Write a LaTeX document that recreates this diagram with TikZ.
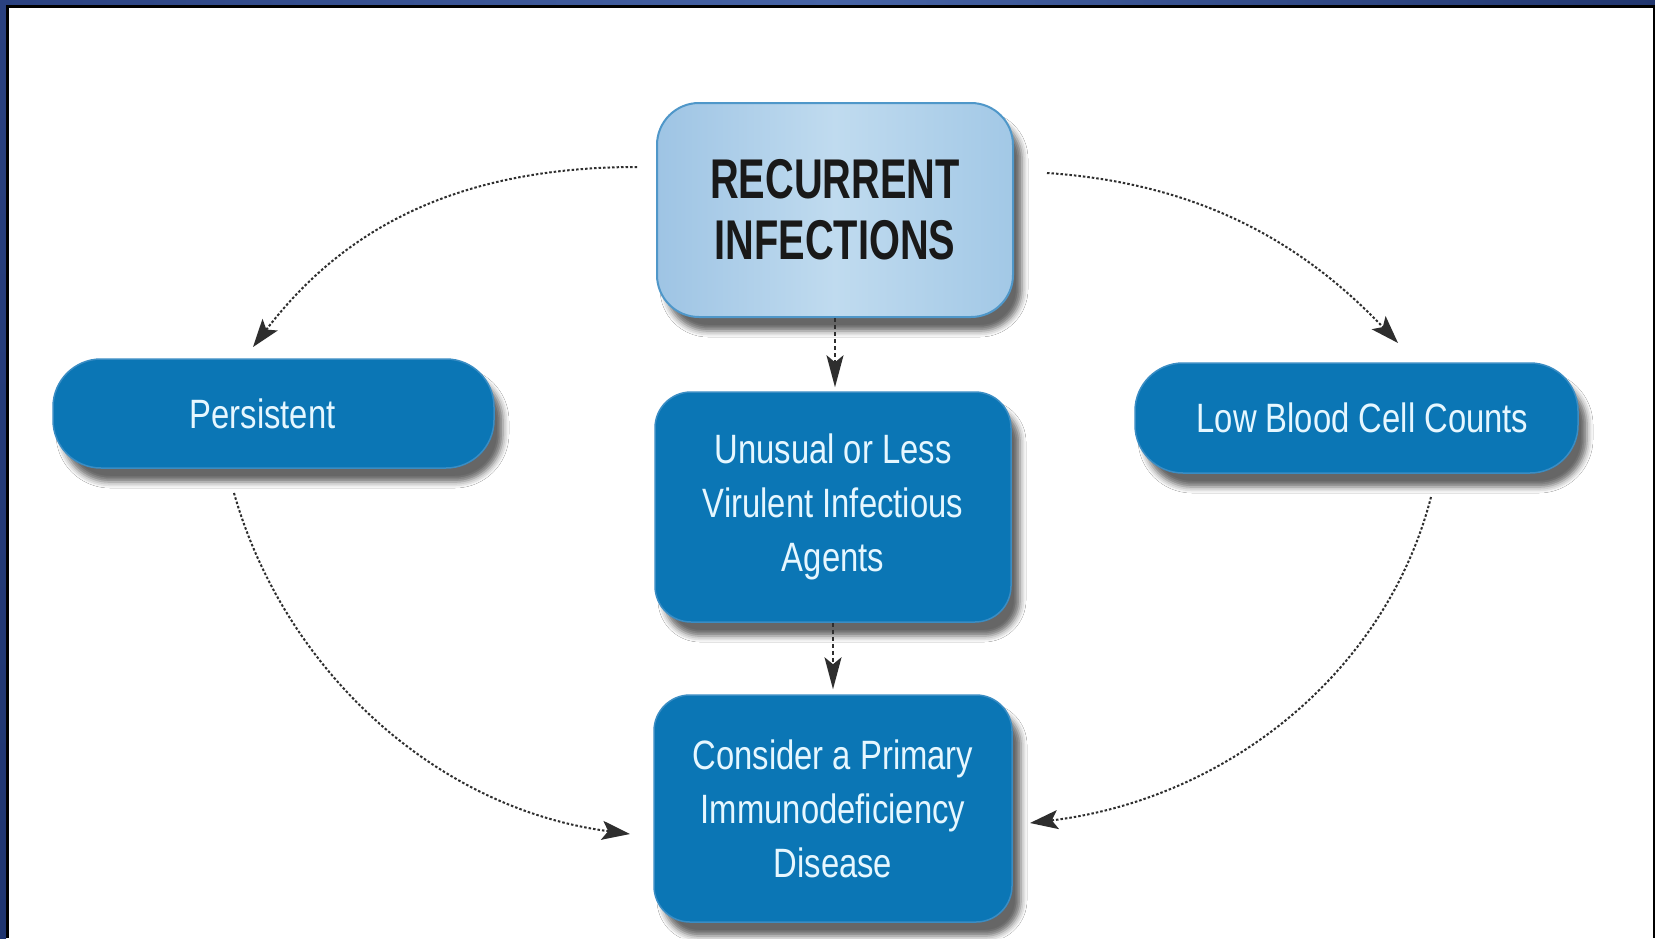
\documentclass[tikz,border=0pt]{standalone}
\usepackage{fontspec}
\usetikzlibrary{arrows.meta,shadows.blur}
\newfontfamily\condfont[FakeStretch=0.8]{Liberation Sans}
\newfontfamily\headfont[FakeStretch=0.71]{Liberation Sans}
\definecolor{nodeblue}{HTML}{0B76B5}
\definecolor{nodeedge}{HTML}{3A8DC4}
\definecolor{txtcyan}{HTML}{E6F7FF}
\definecolor{topL}{HTML}{9EC4E4}
\definecolor{topM}{HTML}{C0DBEF}
\definecolor{topR}{HTML}{A2C8E6}
\definecolor{topedge}{HTML}{4F97C9}
\definecolor{frameA}{HTML}{2A4180}
\definecolor{frameB}{HTML}{4764A6}
\definecolor{frameC}{HTML}{21366F}
\definecolor{frameD}{HTML}{1F3570}
\definecolor{arrowgray}{HTML}{2E2E2E}
\tikzset{
  nodeshadow/.style={blur shadow={shadow xshift=9pt, shadow yshift=-14pt, shadow blur radius=6pt, shadow opacity=60}},
  bluebox/.style={draw=nodeedge, line width=1.5pt, fill=nodeblue, text=txtcyan,
    align=center, inner sep=0pt, font=\condfont\fontsize{41}{54}\selectfont, nodeshadow},
  topbox/.style={draw=topedge, line width=2pt, left color=topL, right color=topR, middle color=topM,
    text=black!90, align=center, inner sep=0pt, rounded corners=42pt,
    minimum width=356pt, minimum height=214pt,
    font=\headfont\bfseries\fontsize{56}{63}\selectfont, nodeshadow},
  curvearrow/.style={draw=arrowgray, line width=2pt, dash pattern=on 2.5pt off 2pt,
    -{Stealth[length=28pt,width=19pt,inset=6pt]}},
  vertarrow/.style={draw=arrowgray, line width=2pt, dash pattern=on 4pt off 3pt,
    -{Stealth[length=32pt,width=17pt,inset=7pt]}}
}
\begin{document}
\begin{tikzpicture}[x=1pt,y=-1pt]
\useasboundingbox (0,0) rectangle (1655,938);
\fill[white] (0,0) rectangle (1655,938);

% nodes
\node[topbox] (rec) at (835,210) {RECURRENT\\[-2pt]INFECTIONS};
\node[bluebox, minimum width=441pt, minimum height=109pt, rounded corners=48pt] (persist) at (273.5,413.5) {\hspace*{-22pt}Persistent};
\node[bluebox, minimum width=443pt, minimum height=110pt, rounded corners=48pt] (low) at (1356.5,418) {\hspace*{12pt}Low Blood Cell Counts};
\node[bluebox, minimum width=356pt, minimum height=230pt, rounded corners=36pt] (unus) at (833,507) {Unusual or Less\\Virulent Infectious\\Agents};
\node[bluebox, minimum width=358pt, minimum height=227pt, rounded corners=36pt] (cons) at (833,808.5) {Consider a Primary\\Immunodeficiency\\Disease};

% free ends of the curved connectors
\coordinate (a1s) at (637,167);
\coordinate (a1e) at (253,347);
\coordinate (a2s) at (1047,173);
\coordinate (a2e) at (1398,343);
\coordinate (a3s) at (234,493);
\coordinate (a3e) at (630,834);
\coordinate (a4s) at (1431,497);
\coordinate (a4e) at (1030,823);

\draw[curvearrow] (a1s) .. controls (437,167) and (332,244) .. (a1e);
\draw[curvearrow] (a2s) .. controls (1196,183) and (1300,240) .. (a2e);
\draw[curvearrow] (a3s) .. controls (283,666) and (432,808) .. (a3e);
\draw[curvearrow] (a4s) .. controls (1386,672) and (1228,799) .. (a4e);

\draw[vertarrow, shorten >=4pt] (rec.south) -- (rec.south |- unus.north);
\draw[vertarrow, shorten >=5pt] (unus.south) -- (cons.north);

% frame
\shade[left color=frameA, right color=frameC, middle color=frameB] (0,0) rectangle (1655,5);
\shade[top color=frameA, bottom color=frameD] (0,0) rectangle (6,938);
\fill[black] (6,5) rectangle (1655,8);
\fill[black] (6,5) rectangle (9,938);
\fill[black] (1652.5,5) rectangle (1655,938);
\end{tikzpicture}
\end{document}
